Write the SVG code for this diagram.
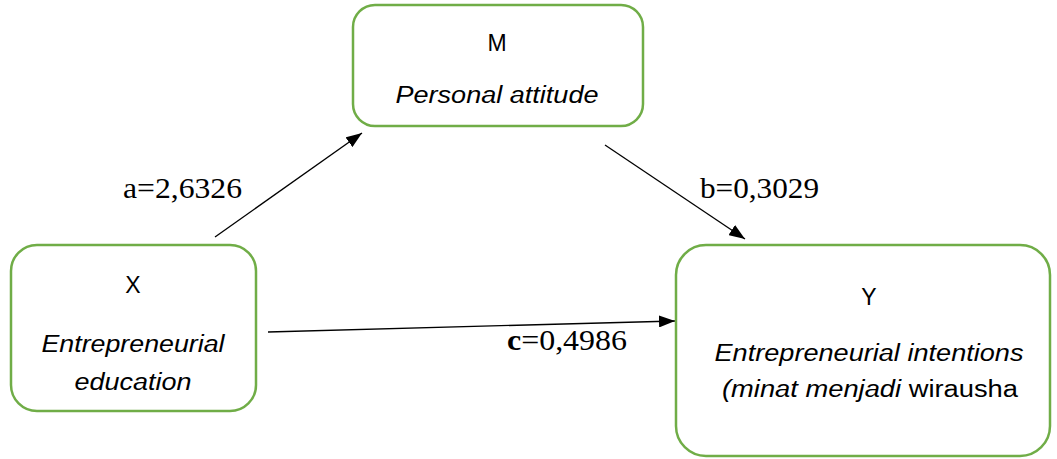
<svg xmlns="http://www.w3.org/2000/svg" width="1057" height="459" viewBox="0 0 1057 459">
<style>
.box{fill:#fff;stroke:#70AD47;stroke-width:2.5}
.t{font-family:"Liberation Sans",Arial,sans-serif;font-size:23px;fill:#000;text-anchor:middle}
.i{font-style:italic}
.lbl{font-family:"Liberation Serif","Times New Roman",serif;font-size:30px;fill:#000}
.edge{stroke:#000;stroke-width:1.3;fill:none;marker-end:url(#ah)}
</style>
<defs>
<marker id="ah" viewBox="0 0 16 12" refX="16" refY="6" markerWidth="16" markerHeight="12" markerUnits="userSpaceOnUse" orient="auto">
<path d="M0,0 L16,6 L0,12 Z" fill="#000"/>
</marker>
</defs>
<g id="edges">
<line class="edge" x1="215" y1="237" x2="362" y2="133"/>
<line class="edge" x1="605" y1="145" x2="745" y2="239"/>
<line class="edge" x1="268" y1="332" x2="675" y2="321"/>
<text class="lbl" x="123" y="198" textLength="119" lengthAdjust="spacingAndGlyphs">a=2,6326</text>
<text class="lbl" x="700" y="198" textLength="119" lengthAdjust="spacingAndGlyphs">b=0,3029</text>
<text class="lbl" x="507" y="350" textLength="120" lengthAdjust="spacingAndGlyphs"><tspan font-weight="bold">c</tspan>=0,4986</text>
</g>
<g id="M">
<rect class="box" x="353" y="5" width="290" height="121" rx="22"/>
<text class="t" x="497" y="51">M</text>
<text class="t i" x="497" y="103" textLength="203" lengthAdjust="spacingAndGlyphs">Personal attitude</text>
</g>
<g id="X">
<rect class="box" x="11" y="245" width="245" height="166" rx="26"/>
<text class="t" x="133" y="293">X</text>
<text class="t i" x="133" y="352" textLength="183" lengthAdjust="spacingAndGlyphs">Entrepreneurial</text>
<text class="t i" x="133" y="390" textLength="117" lengthAdjust="spacingAndGlyphs">education</text>
</g>
<g id="Y">
<rect class="box" x="676" y="245" width="374" height="211" rx="30"/>
<text class="t" x="869" y="305">Y</text>
<text class="t i" x="869" y="361" textLength="309" lengthAdjust="spacingAndGlyphs">Entrepreneurial intentions</text>
<text class="t" x="870" y="397" textLength="296" lengthAdjust="spacingAndGlyphs"><tspan font-style="italic">(minat menjadi</tspan> wirausha</text>
</g>
</svg>
